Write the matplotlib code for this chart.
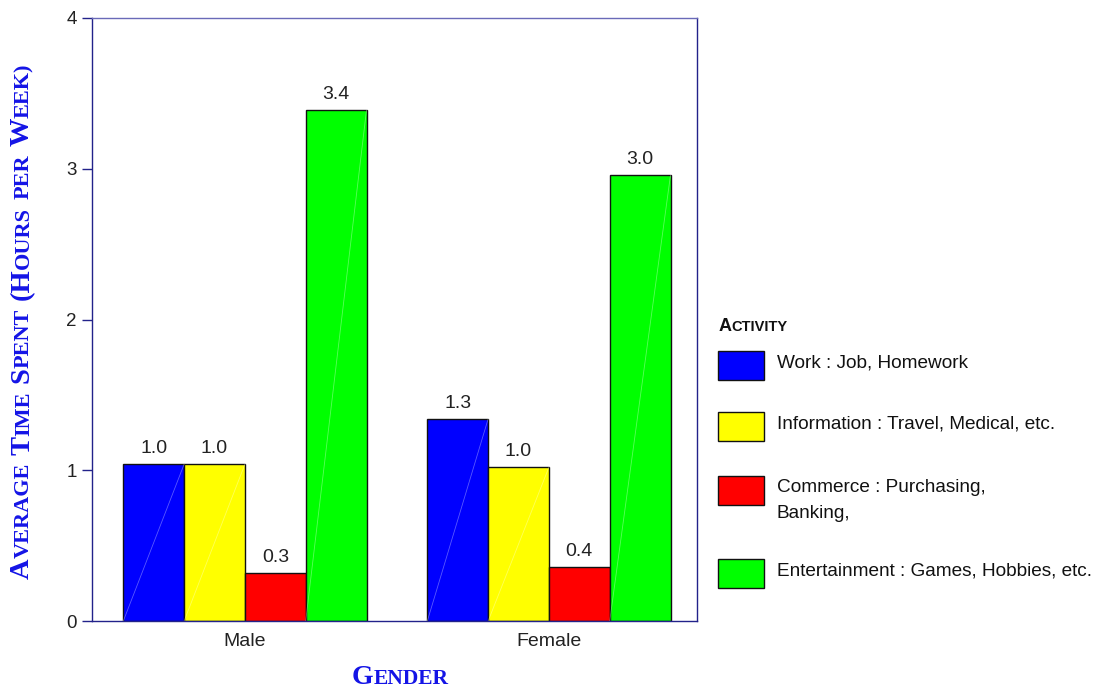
"""Average weekly time spent per activity, by gender (grouped bars)."""

import matplotlib
matplotlib.use("Agg")
import matplotlib.pyplot as plt
import numpy as np
from matplotlib.patches import Rectangle
from matplotlib.transforms import IdentityTransform

W, H = 1104, 690

GENDERS = ["Male", "Female"]
ACTIVITIES = [
    "Work : Job, Homework",
    "Information : Travel, Medical, etc.",
    "Commerce : Purchasing,\nBanking,",
    "Entertainment : Games, Hobbies, etc.",
]
MALE = [1.04, 1.04, 0.32, 3.39]
FEMALE = [1.34, 1.02, 0.36, 2.96]
Y_TICKS = [0, 1, 2, 3, 4]

COLORS = ["#0000ff", "#ffff00", "#ff0000", "#00ff00"]
NAVY = "#22228a"
LABEL_BLUE = "#1414e6"
SANS = ["Liberation Sans", "DejaVu Sans"]
SERIF = ["Liberation Serif", "DejaVu Serif"]


def fx(px):
    return px / W


def fy(py):
    return 1 - py / H


def small_caps(fig, text, center, baseline, big, small, rotation=0, **kw):
    """伪小型大写: 单词首字母大号，其余大写小号。center/baseline 为像素坐标(左上原点)。"""
    renderer = fig.canvas.get_renderer()
    pieces = []
    for i, word in enumerate(text.split(" ")):
        n = 0
        while n < len(word) and not word[n].islower():
            n += 1
        head, tail = word[:n], word[n:].upper()
        gap = 0.28 * big * 100 / 72 if i else 0.0
        if head:
            pieces.append((head, big, gap))
            gap = 0.0
        if tail:
            pieces.append((tail, small, gap))

    arts = []
    total = 0.0
    for s, size, gap in pieces:
        t = fig.text(0, 0, s, fontsize=size, rotation=rotation, rotation_mode="anchor",
                     ha="left", va="baseline", transform=IdentityTransform(), **kw)
        bb = t.get_window_extent(renderer)
        adv = bb.width if rotation == 0 else bb.height
        arts.append((t, gap, adv))
        total += gap + adv

    # 水平: 从左往右; 旋转90度: 从下往上
    pos = -total / 2
    for t, gap, adv in arts:
        pos += gap
        if rotation == 0:
            t.set_position((center + pos, H - baseline))
        else:
            t.set_position((baseline, H - center + pos))
        pos += adv
    return arts


fig = plt.figure(figsize=(W / 100, H / 100), dpi=100)
ax = fig.add_axes([fx(92), fy(621), fx(697) - fx(92), fy(18) - fy(621)])

x = np.arange(len(GENDERS))
width = 0.2
for i, (label, color) in enumerate(zip(ACTIVITIES, COLORS)):
    vals = [MALE[i], FEMALE[i]]
    xs = x + (i - 1.5) * width
    bars = ax.bar(xs, vals, width, color=color, edgecolor="#111111", linewidth=1.0, zorder=2)
    # 原图填充的对角接缝(红色柱不明显)
    if i != 2:
        for b in bars:
            x0, w_, h_ = b.get_x(), b.get_width(), b.get_height()
            ax.plot([x0, x0 + w_], [0, h_], color="white", lw=0.6, alpha=0.35, zorder=3)
    ax.bar_label(bars, labels=[f"{v:.1f}" for v in vals], padding=5,
                 fontsize=14, family=SANS, color="#222222")

ax.set_xlim(-0.503, 1.487)
ax.set_ylim(0, 4)
ax.set_yticks(Y_TICKS)
ax.set_yticklabels([str(t) for t in Y_TICKS], fontsize=13.5, family=SANS, color="#222222")
ax.set_xticks(x)
ax.set_xticklabels(GENDERS, fontsize=14, family=SANS, color="#222222")
ax.tick_params(axis="y", length=7, width=1, color=NAVY, pad=4)
ax.tick_params(axis="x", length=0, pad=9)
for side, sp in ax.spines.items():
    sp.set_color(NAVY)
    sp.set_linewidth(1.0)
ax.spines["top"].set_color("#6a6ab8")

# 轴标题(小型大写)
small_caps(fig, "Average Time Spent (Hours per Week)", 321, 29, 20.5, 16, rotation=90,
           family=SERIF, weight="bold", color=LABEL_BLUE)
small_caps(fig, "Gender", 400, 684, 20, 15.5, family=SERIF, weight="bold", color=LABEL_BLUE)

# 图例
small_caps(fig, "Activity", 753, 331, 13, 10.5, family=SANS, weight="bold", color="#111111")
box_tops = [351, 412, 476, 559]
for label, color, top in zip(ACTIVITIES, COLORS, box_tops):
    fig.add_artist(Rectangle((fx(718), fy(top + 29)), fx(764) - fx(718), fy(top) - fy(top + 29),
                             transform=fig.transFigure, facecolor=color, edgecolor="#111111", lw=1))
    for k, line in enumerate(label.split("\n")):
        fig.text(fx(777), fy(top + 12 + 25 * k), line, fontsize=13.7, family=SANS,
                 color="#111111", ha="left", va="center")

fig.savefig("out.png", dpi=100)
